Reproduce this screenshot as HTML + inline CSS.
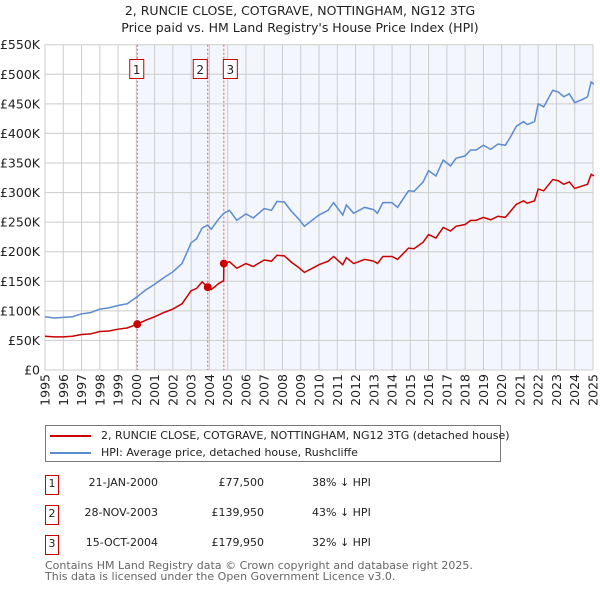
<!DOCTYPE html>
<html><head><meta charset="utf-8"><style>
body{margin:0;background:#fff;font-family:"DejaVu Sans","Liberation Sans",sans-serif;color:#222}
.t{position:absolute;font-size:13px}
</style></head><body>
<div style="position:relative;width:600px;height:590px;overflow:hidden">
<div class="t" style="left:0;width:600px;top:2px;text-align:center;line-height:17px;font-size:12.5px">2, RUNCIE CLOSE, COTGRAVE, NOTTINGHAM, NG12 3TG<br>Price paid vs. HM Land Registry's House Price Index (HPI)</div>
<svg id="c" width="600" height="420" style="position:absolute;left:0;top:0;font-family:'DejaVu Sans',sans-serif"></svg>
<div style="position:absolute;left:45px;top:425px;width:454px;height:35px;border:1px solid #777;background:#fff">
 <div style="position:absolute;left:4px;top:3px;font-size:11px;white-space:nowrap"><span style="display:inline-block;width:41px;border-top:2px solid #c00;vertical-align:middle;margin-right:10px"></span>2, RUNCIE CLOSE, COTGRAVE, NOTTINGHAM, NG12 3TG (detached house)</div>
 <div style="position:absolute;left:4px;top:20px;font-size:11px;white-space:nowrap"><span style="display:inline-block;width:41px;border-top:2px solid #5b8bd0;vertical-align:middle;margin-right:10px"></span>HPI: Average price, detached house, Rushcliffe</div>
</div>
<div id="rows"></div>
<div class="t" style="left:45px;top:560px;font-size:11px;line-height:11px;color:#666">Contains HM Land Registry data © Crown copyright and database right 2025.<br>This data is licensed under the Open Government Licence v3.0.</div>
</div>
<script>
const yearTicks=[1995,1996,1997,1998,1999,2000,2001,2002,2003,2004,2005,2006,2007,2008,2009,2010,2011,2012,2013,2014,2015,2016,2017,2018,2019,2020,2021,2022,2023,2024,2025];
const valueTicks=[0,50,100,150,200,250,300,350,400,450,500,550];
const hpiDates=[1995.0,1995.5,1996.0,1996.5,1997.0,1997.5,1998.0,1998.5,1999.0,1999.5,2000.05,2000.5,2001.0,2001.5,2002.0,2002.5,2003.0,2003.3,2003.6,2003.9,2004.1,2004.5,2004.79,2005.1,2005.5,2006.0,2006.4,2007.0,2007.4,2007.7,2008.1,2008.5,2008.9,2009.2,2009.7,2010.0,2010.5,2010.8,2011.3,2011.5,2011.9,2012.5,2013.0,2013.2,2013.5,2014.0,2014.3,2014.9,2015.2,2015.7,2016.0,2016.4,2016.8,2017.2,2017.5,2018.0,2018.3,2018.6,2019.0,2019.4,2019.8,2020.2,2020.5,2020.8,2021.2,2021.4,2021.8,2022.0,2022.3,2022.8,2023.1,2023.4,2023.7,2024.0,2024.4,2024.7,2024.9,2025.05];
const hpiValues=[90,88,89,90,95,97,103,105,109,112,124,135,145,156,166,180,215,222,240,245,238,255,265,270,253,264,257,273,270,285,284,268,255,243,255,262,270,283,262,279,265,275,271,265,283,283,275,303,302,318,337,328,355,345,358,362,372,372,380,373,382,380,395,412,420,415,420,450,445,473,470,462,467,452,457,462,487,483];
const priceDates=[1995.0,1995.5,1996.0,1996.5,1997.0,1997.5,1998.0,1998.5,1999.0,1999.5,2000.05,2000.5,2001.0,2001.5,2002.0,2002.5,2003.0,2003.3,2003.6,2003.91,2004.1,2004.5,2004.78,2004.79,2005.1,2005.5,2006.0,2006.4,2007.0,2007.4,2007.7,2008.1,2008.5,2008.9,2009.2,2009.7,2010.0,2010.5,2010.8,2011.3,2011.5,2011.9,2012.5,2013.0,2013.2,2013.5,2014.0,2014.3,2014.9,2015.2,2015.7,2016.0,2016.4,2016.8,2017.2,2017.5,2018.0,2018.3,2018.6,2019.0,2019.4,2019.8,2020.2,2020.5,2020.8,2021.2,2021.4,2021.8,2022.0,2022.3,2022.8,2023.1,2023.4,2023.7,2024.0,2024.4,2024.7,2024.9,2025.05];
const priceValues=[57,56,56,57,60,61,65,66,69,71,77.5,84,90,97,103,112,134,138,149,140,136,146,151,180,183,172,180,175,186,184,194,193,182,173,165,173,178,184,192,178,190,180,187,184,180,192,192,187,206,205,216,229,223,241,235,243,246,253,253,258,254,260,258,269,280,286,282,286,306,303,322,320,314,318,307,311,314,331,328];
const saleDates=[2000.05,2003.91,2004.79];
const saleValues=[77.5,139.95,179.95];
const saleLabels=["1","2","3"];
const saleDateText=["21-JAN-2000","28-NOV-2003","15-OCT-2004"];
const salePriceText=["£77,500","£139,950","£179,950"];
const saleHpiText=["38% ↓ HPI","43% ↓ HPI","32% ↓ HPI"];

const L=45,R=593,T=44.7,B=370;
const x=d=>L+(d-1995)/30*(R-L);
const y=v=>B-v/550*(B-T);
const NS="http://www.w3.org/2000/svg";
const svg=document.getElementById('c');
function mk(tag,attrs,parent){const e=document.createElementNS(NS,tag);for(const k in attrs)e.setAttribute(k,attrs[k]);(parent||svg).appendChild(e);return e;}
let e;
e=mk('rect',{x:L,y:T,width:R-L,height:B-T,fill:'#fff'});


e=mk('rect',{x:x(saleDates[0]),y:T,width:R-x(saleDates[0]),height:B-T,fill:'#f3f6fd'});


valueTicks.forEach(v=>{
 e=mk('line',{x1:L,x2:R,y1:y(v),y2:y(v),stroke:'#ccc','stroke-width':1});
 
 
 e=mk('text',{x:40,y:y(v)+4.5,'text-anchor':'end','font-size':12.5,fill:'#222'});
 e.textContent=v===0?'£0':'£'+v+'K';
 
 
});
yearTicks.forEach(yr=>{
 e=mk('line',{x1:x(yr),x2:x(yr),y1:T,y2:B,stroke:'#ccc','stroke-width':1});
 
 
 e=mk('text',{x:0,y:0,transform:`translate(${x(yr)+4.5},374) rotate(-90)`,'text-anchor':'end','font-size':12.5,fill:'#222'});
 e.textContent=yr;
 
 
});
saleDates.forEach((d,i)=>{
 e=mk('line',{x1:x(d),x2:x(d),y1:T,y2:B,stroke:'#e55','stroke-width':1,'stroke-dasharray':'2,2'});
 
 
});
e=mk('polyline',{points:hpiDates.map((d,i)=>x(d)+','+y(hpiValues[i])).join(' '),fill:'none',stroke:'#5b8bd0','stroke-width':1.5});


e=mk('polyline',{points:priceDates.map((d,i)=>x(d)+','+y(priceValues[i])).join(' '),fill:'none',stroke:'#c00','stroke-width':1.5});


saleDates.forEach((d,i)=>{
 e=mk('circle',{cx:x(d),cy:y(saleValues[i]),r:4,fill:'#c00'});
 
 
 const bw=14;
 e=mk('rect',{x:i===0?x(d)-bw/2-0.5:(i===1?x(d)-bw-0.5:x(d)-0.5),y:59.5,width:bw,height:19,fill:'#fff',stroke:'#c00','stroke-width':1});
 
 
 e=mk('text',{x:(i===0?x(d):(i===1?x(d)-bw/2:x(d)+bw/2))-0.5,y:74,'text-anchor':'middle','font-size':12,fill:'#222'});
 e.textContent=saleLabels[i];
 
 
});
const rows=document.getElementById('rows');
const rowY=[475,505,535];
saleLabels.forEach((s,i)=>{
 const r=document.createElement('div');
 
 
 r.style.cssText=`position:absolute;left:0;top:${rowY[i]}px;width:600px;height:20px;font-size:11px`;
 r.innerHTML=`<span style="position:absolute;left:45px;top:0;width:12px;height:18px;border:1px solid #c00;text-align:center;line-height:16px">${s}</span><span style="position:absolute;left:60px;width:98px;text-align:right;top:1px">${saleDateText[i]}</span><span style="position:absolute;left:184px;width:80px;text-align:right;top:1px">${salePriceText[i]}</span><span style="position:absolute;left:312px;top:1px">${saleHpiText[i]}</span>`;
 rows.appendChild(r);
});
</script>
</body></html>
